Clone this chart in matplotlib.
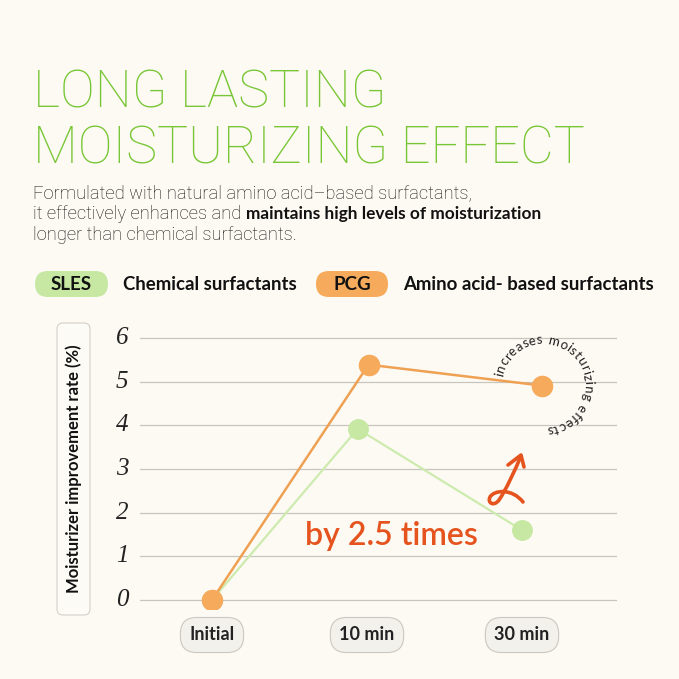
import numpy as np
import matplotlib
matplotlib.use("Agg")
import matplotlib.pyplot as plt
from matplotlib.patches import FancyBboxPatch, PathPatch
from matplotlib.path import Path

# ---------------- data ----------------
categories = ["Initial", "10 min", "30 min"]
sles_x = [0.0, 0.94, 2.0]          # category positions as drawn (slightly offset)
sles_values = [0.0, 3.92, 1.6]
pcg_x = [0.0, 1.01, 2.13]
pcg_values = [0.0, 5.39, 4.91]
y_ticks = [0, 1, 2, 3, 4, 5, 6]
y_label = "Moisturizer improvement rate (%)"
title_lines = ["LONG LASTING", "MOISTURIZING EFFECT"]
legend_items = [("SLES", "Chemical surfactants"), ("PCG", "Amino acid- based surfactants")]
callout = "by 2.5 times"
circle_text = "increases moisturizing effects"

# ---------------- style ----------------
BG = "#FDFAF3"
GREEN_T = "#78C635"
GREEN_L = "#CDEBAE"
GREEN_M = "#C6E8A3"
ORANGE_L = "#EFA153"
ORANGE_M = "#F6AA5C"
RED = "#E5531E"
W = H = 679

fig = plt.figure(figsize=(W / 100, H / 100), dpi=100, facecolor=BG)

# chart axes: pixel geometry
px_left, px_right = 140, 617
y0_px, y6_px = 600, 338
unit = (y0_px - y6_px) / 6.0
ylo, yhi = -0.2, 6.25
top_px = y6_px - (yhi - 6) * unit
bot_px = y0_px + (0 - ylo) * unit
cat_px = [212, 366, 522]
sp = (cat_px[2] - cat_px[0]) / 2
xlo = 0 - (cat_px[0] - px_left) / sp
xhi = 2 + (px_right - cat_px[2]) / sp
ax = fig.add_axes([px_left / W, 1 - bot_px / H, (px_right - px_left) / W, (bot_px - top_px) / H])
ax.set_xlim(xlo, xhi)
ax.set_ylim(ylo, yhi)
ax.set_facecolor("none")
for s in ax.spines.values():
    s.set_visible(False)
ax.set_xticks([])
ax.set_yticks([])

for t in y_ticks:
    ax.axhline(t, color="#C8C5BE", lw=0.9, zorder=1)
    ax.text((122 - px_left) / (px_right - px_left), t, str(t),
            transform=ax.get_yaxis_transform(), ha="center", va="center",
            fontsize=18, fontstyle="italic", family="Liberation Serif", color="#222222")

ax.plot(sles_x, sles_values, color=GREEN_L, lw=1.6, zorder=2)
ax.plot(sles_x, sles_values, "o", color=GREEN_M, ms=14, zorder=3)
ax.plot(pcg_x, pcg_values, color=ORANGE_L, lw=1.8, zorder=4)
ax.plot(pcg_x, pcg_values, "o", color=ORANGE_M, ms=14.5, zorder=5)

for i, c in enumerate(categories):
    ax.text(i, (600 - 635) / unit, c, ha="center", va="center", fontsize=13,
            family="Lato", fontweight="bold", color="#222222", clip_on=False,
            bbox=dict(boxstyle="round,pad=0.5,rounding_size=0.9", fc="#F3F1EC",
                      ec="#CBC8C1", lw=0.8))

# overlay axes in pixel coords (y downward)
ov = fig.add_axes([0, 0, 1, 1])
ov.set_xlim(0, W)
ov.set_ylim(H, 0)
ov.axis("off")
ov.set_facecolor("none")

# title
ov.text(33, 108, title_lines[0], fontsize=37.5, family="Roboto", fontweight="light",
        color=GREEN_T, va="baseline", ha="left")
ov.text(33, 163, title_lines[1], fontsize=37.5, family="Roboto", fontweight="light",
        color=GREEN_T, va="baseline", ha="left")

# subtitle with bold run
fig.canvas.draw()
r = fig.canvas.get_renderer()
sub_fs = 13.2
ov.text(33, 198, "Formulated with natural amino acid–based surfactants,", fontsize=sub_fs,
        family="Roboto", fontweight="light", color="#111111", va="baseline")
t1 = ov.text(33, 219, "it effectively enhances and ", fontsize=sub_fs,
             family="Roboto", fontweight="light", color="#111111", va="baseline")
bb = t1.get_window_extent(renderer=r)
ov.text(bb.x1, 219, "maintains high levels of moisturization", fontsize=12.4,
        family="Lato", fontweight="bold", color="#111111", va="baseline")
ov.text(33, 240, "longer than chemical surfactants.", fontsize=sub_fs,
        family="Roboto", fontweight="light", color="#111111", va="baseline")

# legend pills
pill_specs = [(35, 108, 123, GREEN_M), (316, 388, 403, ORANGE_M)]
for (tag, desc), (x0, x1, tx, col) in zip(legend_items, pill_specs):
    ov.add_patch(FancyBboxPatch((x0, 271), x1 - x0, 26,
                                boxstyle="round,pad=0,rounding_size=13",
                                fc=col, ec="none"))
    ov.text((x0 + x1) / 2, 284, tag, ha="center", va="center", fontsize=13.5,
            family="Lato", fontweight="bold", color="#111111")
    ov.text(tx, 285, desc, ha="left", va="center", fontsize=13.4,
            family="Lato", fontweight="bold", color="#111111")

# y label box
ov.add_patch(FancyBboxPatch((57, 323), 33, 292,
                            boxstyle="round,pad=0,rounding_size=6",
                            fc="#FDFBF6", ec="#D3D0C9", lw=0.8))
ov.text(73.5, 469, y_label, rotation=90, ha="center", va="center", fontsize=12,
        family="Lato", fontweight="bold", color="#111111")

# callout
ov.text(305, 536, callout, ha="left", va="center", fontsize=23, family="Lato",
        fontweight="semibold", color=RED)

# circular text (per-character placement using measured widths)
cx, cy, rad = 543, 385, 41
start = 169
cfs = 9.5
widths = []
for ch in circle_text:
    tt = ov.text(0, 0, ch if ch != " " else "n", fontsize=cfs, family="Lato")
    w = tt.get_window_extent(renderer=r).width
    tt.remove()
    widths.append(w * (0.55 if ch == " " else 1.0) + 0.3)
acc = 0.0
for ch, w in zip(circle_text, widths):
    th = start - np.rad2deg((acc + w / 2) / rad)
    acc += w
    rr = np.deg2rad(th)
    x = cx + rad * np.cos(rr)
    y = cy - rad * np.sin(rr)
    ov.text(x, y, ch, rotation=th - 90, rotation_mode="anchor", ha="center",
            va="baseline", fontsize=cfs, family="Lato", color="#222222")

# swirl arrow
verts = [(521, 456), (515, 470), (506, 490), (499, 500),
         (494, 507), (487, 503), (490, 497),
         (494, 490), (512, 488), (523, 502)]
codes = [Path.MOVETO] + [Path.CURVE4] * 9
ov.add_patch(PathPatch(Path(verts, codes), fc="none", ec=RED, lw=2.6, capstyle="round"))
ov.plot([508, 521, 524], [465, 455, 467], color=RED, lw=2.6, solid_capstyle="round",
        solid_joinstyle="round")

fig.savefig("out.png", dpi=100, facecolor=BG)
